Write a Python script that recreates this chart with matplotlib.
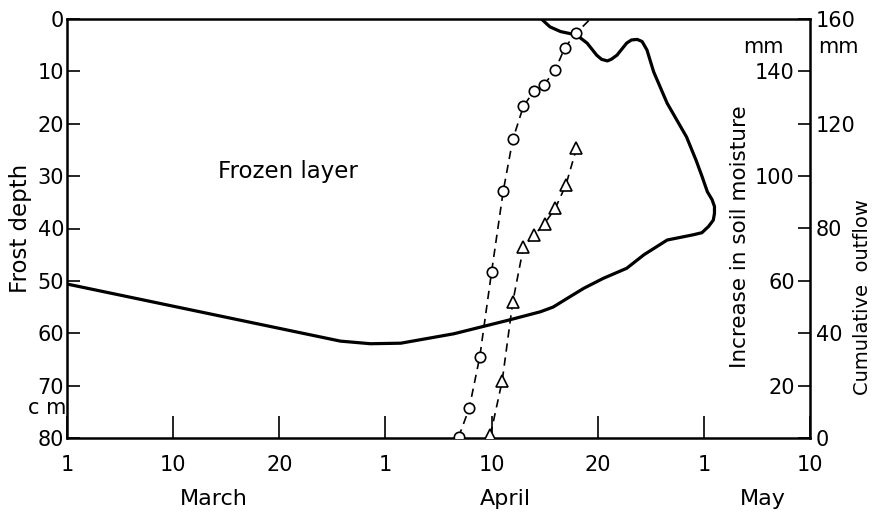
import matplotlib
matplotlib.use('Agg')
import matplotlib.pyplot as plt
import matplotlib.transforms as mtransforms
import numpy as np

# days after 1 March; the drawn axis spaces its date ticks evenly
tick_days = [0, 9, 19, 31, 40, 50, 61, 70]
tick_labels = ['1', '10', '20', '1', '10', '20', '1', '10']
months = ['March', 'April', 'May']
month_days = [12.8, 41.3, 66.0]

# frost layer boundary (day, depth cm), traced from the bottom of the layer round to the thaw front
frost_day = [0, 25.9, 29.3, 32.3, 36.8, 41.4, 44.6, 45.8, 47.0, 48.7, 50.6, 53.0, 54.8,
             57.2, 58.55, 59.9, 60.8, 61.4, 61.8, 61.9, 61.9, 61.7, 61.3, 60.8, 60.2,
             59.2, 57.2, 55.8, 55.1, 54.6, 54.1, 53.5, 53.0, 52.0, 51.4, 51.0, 50.4,
             49.9, 49.0, 48.0, 46.5, 45.5, 44.7]
frost_depth = [50.6, 61.5, 62.0, 61.9, 60.1, 57.6, 55.9, 55.0, 53.5, 51.4, 49.5, 47.6, 45.0,
               42.2, 41.7, 41.2, 40.8, 39.6, 38.4, 37.1, 35.8, 34.5, 33.0, 30.0, 27.0,
               22.5, 16.1, 10.1, 5.9, 4.3, 3.9, 4.0, 4.6, 6.9, 7.7, 8.0, 7.7,
               6.9, 4.6, 3.05, 2.4, 1.5, 0.0]

# circles: cumulative outflow (mm); last point is where the dashed line leaves the frame
outflow_day = [37.2, 38.1, 39.0, 40.0, 41.1, 42.0, 43.0, 44.0, 44.9, 46.0, 46.9, 48.0, 49.3]
outflow_mm = [0.3, 11.3, 31.0, 63.4, 94.3, 114.0, 126.7, 132.5, 134.7, 140.5, 149.1, 154.7, 160.0]

# triangles: increase in soil moisture (mm)
moist_day = [39.9, 41.0, 42.0, 43.0, 44.0, 45.0, 46.0, 47.0, 48.0]
moist_mm = [1.1, 21.8, 52.0, 72.8, 77.5, 81.9, 87.7, 96.6, 110.6]

idx = np.arange(len(tick_days))


def fwd(x):
    return np.interp(x, tick_days, idx)


def inv(u):
    return np.interp(u, idx, tick_days)


plt.rcParams['font.family'] = 'DejaVu Sans'
plt.rcParams['font.size'] = 15

fig = plt.figure(figsize=(8.77, 5.15), dpi=100)
ax = fig.add_axes([67 / 877, 77 / 515, 743 / 877, 419 / 515])

ax.set_xscale('function', functions=(fwd, inv))
ax.set_xlim(0, 70)
ax.set_ylim(80, 0)

ax.plot(frost_day, frost_depth, color='black', lw=2.3, solid_capstyle='round', solid_joinstyle='round')

ax.set_xticks(tick_days)
ax.set_xticklabels(tick_labels)
ax.set_yticks(range(0, 81, 10))
ax.tick_params(axis='y', direction='in', length=9, width=1.2, pad=2)
ax.tick_params(axis='x', direction='in', length=16, width=1.2, pad=12)
for s in ax.spines.values():
    s.set_linewidth(1.8)

ax.text(-0.063, 0.5, 'Frost depth', transform=ax.transAxes, rotation=90,
        ha='center', va='center', fontsize=16.5)
ax.text(-0.027, 0.072, 'c m', transform=ax.transAxes, ha='center', va='center')
ax.text(0.298, 0.635, 'Frozen layer', transform=ax.transAxes, ha='center', va='center',
        fontsize=16.5)

trans = mtransforms.blended_transform_factory(ax.transData, ax.transAxes)
for m, d in zip(months, month_days):
    ax.text(d, -0.145, m, transform=trans, ha='center', va='center', fontsize=16)

# outer right axis: cumulative outflow
ax2 = ax.twinx()
ax2.set_ylim(0, 160)
ax2.set_yticks(range(0, 161, 40))
ax2.tick_params(axis='y', direction='in', length=9, width=1.2, pad=4)
for s in ax2.spines.values():
    s.set_visible(False)
ax2.text(1.07, 0.337, 'Cumulative  outflow', transform=ax2.transAxes, rotation=90,
         ha='center', va='center', fontsize=14)
ax2.text(1.038, 0.933, 'mm', transform=ax2.transAxes, ha='center', va='center')

# inner labels on the right spine: increase in soil moisture
ax3 = ax.twinx()
ax3.set_ylim(0, 160)
for s in ax3.spines.values():
    s.set_visible(False)
ax3.spines['left'].set_position(('axes', 1.0))
ax3.yaxis.set_ticks_position('left')
ax3.set_yticks(range(20, 141, 40))
ax3.tick_params(axis='y', direction='out', length=9, width=1.2, pad=2)
ax3.text(0.906, 0.48, 'Increase in soil moisture', transform=ax3.transAxes,
         rotation=90, ha='center', va='center', fontsize=15.5)
ax3.text(0.937, 0.933, 'mm', transform=ax3.transAxes, ha='center', va='center')

ax2.plot(outflow_day, outflow_mm, color='black', lw=1.2, ls=(0, (5, 3.5)),
         marker='o', ms=7.5, mfc='white', mec='black', mew=1.2,
         markevery=list(range(len(outflow_day) - 1)))
ax2.plot(moist_day, moist_mm, color='black', lw=1.2, ls=(0, (5, 3.5)),
         marker='^', ms=9, mfc='white', mec='black', mew=1.2)

fig.savefig('out.png', dpi=100)
